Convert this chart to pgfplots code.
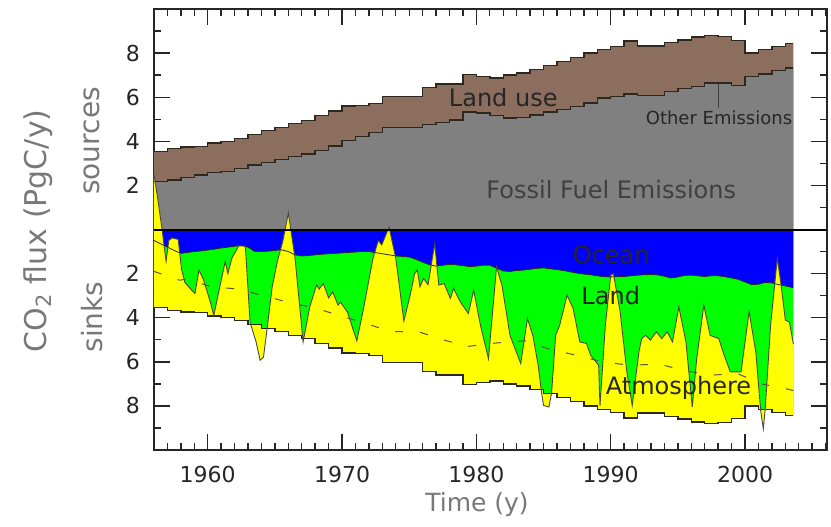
\documentclass[border=0pt]{standalone}
\usepackage{fontspec}
\setmainfont{DejaVu Sans}
\usepackage{pgfplots}
\usepackage{pgfplotstable}
\pgfplotsset{compat=1.18}

\definecolor{landuse}{RGB}{140,110,95}
\definecolor{fossil}{RGB}{128,128,128}
\definecolor{ocean}{RGB}{0,0,255}
\definecolor{landsink}{RGB}{0,255,0}
\definecolor{atmos}{RGB}{255,255,0}
\definecolor{edgec}{RGB}{45,40,30}
\definecolor{labgray}{RGB}{120,120,120}

% year, fossil fuel (F), total sources (T)
\pgfplotstableread{
year F T
1956 2.17 3.55
1957 2.25 3.67
1958 2.35 3.75
1959 2.47 3.76
1960 2.58 3.92
1961 2.62 3.98
1962 2.76 4.12
1963 2.92 4.32
1964 3.05 4.48
1965 3.18 4.62
1966 3.31 4.80
1967 3.42 4.95
1968 3.58 5.16
1969 3.78 5.37
1970 4.04 5.60
1971 4.21 5.62
1972 4.40 5.72
1973 4.62 6.02
1974 4.62 6.02
1975 4.62 6.02
1976 4.77 6.45
1977 4.86 6.60
1978 4.97 6.60
1979 5.33 7.02
1980 5.28 6.95
1981 5.17 6.87
1982 5.06 7.00
1983 5.08 7.10
1984 5.20 7.25
1985 5.33 7.45
1986 5.43 7.63
1987 5.58 7.81
1988 5.74 8.00
1989 5.96 8.17
1990 6.04 8.29
1991 6.14 8.55
1992 6.08 8.33
1993 6.08 8.33
1994 6.27 8.48
1995 6.39 8.60
1996 6.49 8.73
1997 6.64 8.80
1998 6.64 8.74
1999 6.54 8.57
2000 6.95 8.00
2001 7.05 8.16
2002 7.20 8.29
2003 7.33 8.44
2003.6 7.33 8.44
}\srctab

% ocean sink boundary
\pgfplotstableread{
year O
1956 -0.50
1956.5 -0.65
1957 -0.80
1957.5 -0.95
1958 -1.08
1958.5 -1.04
1959 -1.00
1959.5 -0.97
1960 -0.93
1960.5 -0.89
1961 -0.84
1961.5 -0.80
1962 -0.76
1962.5 -0.72
1963 -0.80
1963.5 -1.00
1964 -1.00
1964.5 -0.98
1965 -0.95
1965.5 -0.92
1966 -1.00
1966.5 -1.15
1967 -1.20
1967.5 -1.18
1968 -1.15
1968.5 -1.12
1969 -1.10
1969.5 -1.08
1970 -1.06
1970.5 -1.04
1971 -1.02
1971.5 -1.00
1972 -1.00
1972.5 -1.05
1973 -1.10
1973.5 -1.15
1974 -1.20
1974.5 -1.22
1975 -1.25
1975.5 -1.35
1976 -1.48
1976.5 -1.60
1977 -1.66
1977.5 -1.62
1978 -1.58
1978.5 -1.60
1979 -1.64
1979.5 -1.68
1980 -1.66
1980.5 -1.62
1981 -1.62
1981.5 -1.75
1982 -1.88
1982.5 -1.90
1983 -1.86
1983.5 -1.84
1984 -1.80
1984.5 -1.76
1985 -1.74
1985.5 -1.78
1986 -1.82
1986.5 -1.86
1987 -1.92
1987.5 -1.98
1988 -2.02
1988.5 -2.05
1989 -2.10
1989.5 -2.14
1990 -2.15
1990.5 -2.14
1991 -2.13
1991.5 -2.10
1992 -2.07
1992.5 -2.05
1993 -2.04
1993.5 -2.06
1994 -2.12
1994.5 -2.20
1995 -2.15
1995.5 -2.08
1996 -2.07
1996.5 -2.10
1997 -2.13
1997.5 -2.10
1998 -2.10
1998.5 -2.14
1999 -2.20
1999.5 -2.26
2000 -2.38
2000.5 -2.50
2001 -2.48
2001.5 -2.40
2002 -2.42
2002.5 -2.50
2003 -2.56
2003.6 -2.64
}\oceantab

% ocean + land sink (top of atmosphere band)
\pgfplotstableread{
year W
1956.0 2.50
1956.3 1.30
1956.6 0.00
1956.9 -1.45
1957.1 -0.50
1957.35 -0.38
1957.8 -0.45
1958.05 -1.80
1958.3 -2.40
1958.8 -2.75
1959.05 -2.90
1959.35 -1.84
1959.7 -2.30
1960.2 -3.30
1960.45 -3.90
1960.9 -2.60
1961.3 -1.46
1961.5 -2.00
1961.8 -1.30
1962.3 -0.75
1962.8 -0.75
1963.15 -4.20
1963.6 -5.10
1963.9 -5.93
1964.15 -5.80
1964.4 -4.60
1964.8 -2.60
1965.2 -1.40
1965.6 -0.50
1966.0 0.75
1966.5 -1.30
1967.1 -5.10
1967.6 -3.50
1968.1 -2.52
1968.3 -2.70
1968.6 -2.45
1969.0 -3.10
1969.3 -2.83
1969.7 -3.43
1969.9 -3.30
1970.4 -3.75
1971.1 -5.05
1971.6 -3.58
1972.3 -1.31
1972.7 -0.50
1972.95 -0.70
1973.5 0.10
1974.0 -1.31
1974.6 -4.15
1975.1 -2.90
1975.4 -2.00
1975.6 -1.84
1975.8 -2.60
1976.07 -2.22
1976.4 -2.50
1976.9 -0.65
1977.2 -2.52
1977.6 -2.45
1978.06 -3.13
1978.3 -2.67
1978.8 -3.28
1979.4 -3.81
1979.8 -2.75
1980.3 -4.34
1980.9 -5.86
1981.5 -1.69
1981.9 -2.52
1982.5 -4.80
1983.3 -6.08
1983.8 -4.04
1984.2 -4.80
1984.6 -6.16
1984.85 -7.40
1985.0 -7.98
1985.4 -8.05
1985.6 -7.40
1985.9 -4.80
1986.2 -4.34
1986.75 -2.98
1987.2 -3.58
1987.7 -5.10
1988.2 -5.17
1988.5 -5.70
1989.1 -6.16
1989.2 -8.00
1989.6 -4.34
1990.0 -2.07
1990.2 -2.00
1990.7 -3.73
1991.2 -6.46
1991.6 -7.98
1992.1 -5.55
1992.3 -4.95
1992.6 -4.80
1992.95 -5.02
1993.4 -4.64
1993.8 -4.95
1994.2 -4.64
1994.6 -5.10
1995.07 -3.51
1995.6 -5.10
1996.07 -8.05
1996.4 -5.86
1996.93 -3.43
1997.4 -4.80
1998.05 -4.95
1998.4 -5.63
1998.9 -6.46
1999.7 -6.46
2000.3 -3.73
2000.8 -5.55
2001.16 -8.20
2001.36 -9.04
2001.5 -8.13
2001.9 -4.34
2002.4 -1.31
2002.65 -2.37
2003.0 -4.11
2003.3 -4.20
2003.6 -5.20
}\sinktab

% atmosphere band outline: sink line, then -total (stepped) back to 1956
\pgfplotstableread{
year A
1956.0 2.50
1956.3 1.30
1956.6 0.00
1956.9 -1.45
1957.1 -0.50
1957.35 -0.38
1957.8 -0.45
1958.05 -1.80
1958.3 -2.40
1958.8 -2.75
1959.05 -2.90
1959.35 -1.84
1959.7 -2.30
1960.2 -3.30
1960.45 -3.90
1960.9 -2.60
1961.3 -1.46
1961.5 -2.00
1961.8 -1.30
1962.3 -0.75
1962.8 -0.75
1963.15 -4.20
1963.6 -5.10
1963.9 -5.93
1964.15 -5.80
1964.4 -4.60
1964.8 -2.60
1965.2 -1.40
1965.6 -0.50
1966.0 0.75
1966.5 -1.30
1967.1 -5.10
1967.6 -3.50
1968.1 -2.52
1968.3 -2.70
1968.6 -2.45
1969.0 -3.10
1969.3 -2.83
1969.7 -3.43
1969.9 -3.30
1970.4 -3.75
1971.1 -5.05
1971.6 -3.58
1972.3 -1.31
1972.7 -0.50
1972.95 -0.70
1973.5 0.10
1974.0 -1.31
1974.6 -4.15
1975.1 -2.90
1975.4 -2.00
1975.6 -1.84
1975.8 -2.60
1976.07 -2.22
1976.4 -2.50
1976.9 -0.65
1977.2 -2.52
1977.6 -2.45
1978.06 -3.13
1978.3 -2.67
1978.8 -3.28
1979.4 -3.81
1979.8 -2.75
1980.3 -4.34
1980.9 -5.86
1981.5 -1.69
1981.9 -2.52
1982.5 -4.80
1983.3 -6.08
1983.8 -4.04
1984.2 -4.80
1984.6 -6.16
1984.85 -7.40
1985.0 -7.98
1985.4 -8.05
1985.6 -7.40
1985.9 -4.80
1986.2 -4.34
1986.75 -2.98
1987.2 -3.58
1987.7 -5.10
1988.2 -5.17
1988.5 -5.70
1989.1 -6.16
1989.2 -8.00
1989.6 -4.34
1990.0 -2.07
1990.2 -2.00
1990.7 -3.73
1991.2 -6.46
1991.6 -7.98
1992.1 -5.55
1992.3 -4.95
1992.6 -4.80
1992.95 -5.02
1993.4 -4.64
1993.8 -4.95
1994.2 -4.64
1994.6 -5.10
1995.07 -3.51
1995.6 -5.10
1996.07 -8.05
1996.4 -5.86
1996.93 -3.43
1997.4 -4.80
1998.05 -4.95
1998.4 -5.63
1998.9 -6.46
1999.7 -6.46
2000.3 -3.73
2000.8 -5.55
2001.16 -8.20
2001.36 -9.04
2001.5 -8.13
2001.9 -4.34
2002.4 -1.31
2002.65 -2.37
2003.0 -4.11
2003.3 -4.20
2003.6 -5.20
2003.6 -8.44
2003 -8.44
2003 -8.29
2002 -8.29
2002 -8.16
2001 -8.16
2001 -8.00
2000 -8.00
2000 -8.57
1999 -8.57
1999 -8.74
1998 -8.74
1998 -8.80
1997 -8.80
1997 -8.73
1996 -8.73
1996 -8.60
1995 -8.60
1995 -8.48
1994 -8.48
1994 -8.33
1993 -8.33
1993 -8.33
1992 -8.33
1992 -8.55
1991 -8.55
1991 -8.29
1990 -8.29
1990 -8.17
1989 -8.17
1989 -8.00
1988 -8.00
1988 -7.81
1987 -7.81
1987 -7.63
1986 -7.63
1986 -7.45
1985 -7.45
1985 -7.25
1984 -7.25
1984 -7.10
1983 -7.10
1983 -7.00
1982 -7.00
1982 -6.87
1981 -6.87
1981 -6.95
1980 -6.95
1980 -7.02
1979 -7.02
1979 -6.60
1978 -6.60
1978 -6.60
1977 -6.60
1977 -6.45
1976 -6.45
1976 -6.02
1975 -6.02
1975 -6.02
1974 -6.02
1974 -6.02
1973 -6.02
1973 -5.72
1972 -5.72
1972 -5.62
1971 -5.62
1971 -5.60
1970 -5.60
1970 -5.37
1969 -5.37
1969 -5.16
1968 -5.16
1968 -4.95
1967 -4.95
1967 -4.80
1966 -4.80
1966 -4.62
1965 -4.62
1965 -4.48
1964 -4.48
1964 -4.32
1963 -4.32
1963 -4.12
1962 -4.12
1962 -3.98
1961 -3.98
1961 -3.92
1960 -3.92
1960 -3.76
1959 -3.76
1959 -3.75
1958 -3.75
1958 -3.67
1957 -3.67
1957 -3.55
1956 -3.55
}\atmtab

% dashed trend
\pgfplotstableread{
year D
1956.0 -1.90
1957.9 -2.30
1958.4 -2.25
1960.3 -2.60
1962.3 -2.70
1964.1 -3.00
1966.0 -3.30
1968.1 -3.58
1969.9 -3.92
1971.8 -4.26
1973.5 -4.62
1975.8 -4.66
1977.6 -5.02
1979.4 -5.30
1981.4 -5.15
1983.6 -5.05
1985.3 -5.40
1987.4 -5.70
1989.4 -6.00
1991.4 -6.16
1993.6 -6.10
1995.4 -6.39
1997.5 -6.60
1999.5 -6.55
2001.2 -7.00
2003.0 -7.22
2003.6 -7.30
}\trendtab

\begin{document}
\begin{tikzpicture}
\begin{axis}[
  at={(0,0)}, anchor=south west,
  scale only axis, width=336.5pt, height=220.5pt,
  xmin=1956, xmax=2006.1, ymin=-10, ymax=10,
  axis line style={line width=0.8pt, black!85},
  xtick={1960,1970,1980,1990,2000},
  xticklabels={1960,1970,1980,1990,2000},
  minor xtick={1956,1957,...,2006},
  ytick={-8,-6,-4,-2,2,4,6,8},
  yticklabels={8,6,4,2,2,4,6,8},
  minor ytick={-9,-7,-5,-3,-1,1,3,5,7,9},
  tick align=inside, tick pos=both,
  major tick length=8pt, minor tick length=3.5pt,
  tick style={line width=0.7pt, black!85},
  /pgf/number format/assume math mode=true,
  ticklabel style={font=\fontsize{11}{13}\selectfont, text=black!85},
  xticklabel style={yshift=-4.5pt},
  yticklabel style={xshift=-3.5pt},
]
% sources
\addplot[const plot, fill=landuse, draw=none] table[x=year, y=T] {\srctab} \closedcycle;
\addplot[const plot, fill=fossil, draw=none] table[x=year, y=F] {\srctab} \closedcycle;
% sinks
\addplot[const plot, fill=landsink, draw=none] table[x=year, y expr=-\thisrow{T}] {\srctab} \closedcycle;
\addplot[fill=ocean, draw=none] table[x=year, y=O] {\oceantab} \closedcycle;
\addplot[fill=atmos, draw=none] table[x=year, y=A] {\atmtab} -- cycle;
% edges
\addplot[const plot, color=edgec, line width=0.7pt] table[x=year, y=T] {\srctab};
\addplot[const plot, color=edgec, line width=0.7pt] table[x=year, y=F] {\srctab};
\addplot[const plot, color=edgec, line width=0.7pt] table[x=year, y expr=-\thisrow{T}] {\srctab};
\addplot[color=edgec, line width=0.4pt] table[x=year, y=O] {\oceantab};
\addplot[color=edgec!85, line width=0.45pt] table[x=year, y=W] {\sinktab};
\addplot[color=edgec!80, line width=0.5pt, dash pattern=on 4pt off 8.5pt] table[x=year, y=D] {\trendtab};
\addplot[color=black, line width=1pt] coordinates {(1956,0) (2006.1,0)};
% labels
\node[font=\fontsize{12}{14}\selectfont, text=black!85] at (axis cs:1982.0,5.98) {Land use};
\node[font=\fontsize{9}{11}\selectfont, text=black!85] at (axis cs:1998.06,5.05) {Other Emissions};
\draw[black!75, line width=0.4pt] (axis cs:1998.03,6.62) -- (axis cs:1998.03,5.5);
\node[font=\fontsize{12}{14}\selectfont, text=black!75] at (axis cs:1990.04,1.83) {Fossil Fuel Emissions};
\node[font=\fontsize{12}{14}\selectfont, text=black!85] at (axis cs:1990.04,-1.16) {Ocean};
\node[font=\fontsize{12}{14}\selectfont, text=black!85] at (axis cs:1990.0,-3.01) {Land};
\node[font=\fontsize{12}{14}\selectfont, text=black!85] at (axis cs:1995.05,-7.18) {Atmosphere};
\end{axis}
\node[rotate=90, font=\fontsize{15}{17}\selectfont, text=labgray] at (-58pt,109.5pt) {CO\textsubscript{2} flux (PgC/y)};
\node[rotate=90, font=\fontsize{14}{16}\selectfont, text=labgray] at (-31pt,154.5pt) {sources};
\node[rotate=90, font=\fontsize{14}{16}\selectfont, text=labgray] at (-31pt,66.5pt) {sinks};
\node[font=\fontsize{12.5}{15}\selectfont, text=labgray] at (161.5pt,-27.5pt) {Time (y)};
\pgfresetboundingbox
\useasboundingbox (-77pt,-38pt) rectangle (338.5pt,225pt);
\end{tikzpicture}
\end{document}
